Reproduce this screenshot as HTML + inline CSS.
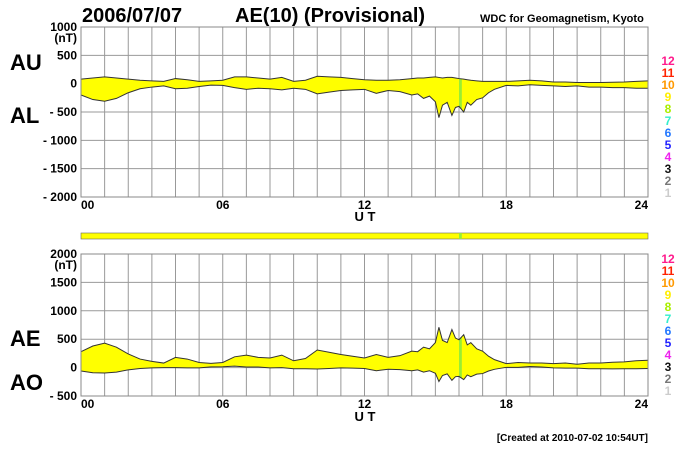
<!DOCTYPE html>
<html><head><meta charset="utf-8"><style>
body{margin:0;background:#fff;}
svg{display:block;font-family:"Liberation Sans",Arial,sans-serif;font-weight:bold;}
</style></head><body>
<svg id="c" width="700" height="450" viewBox="0 0 700 450">
<text x="82" y="22" font-size="20">2006/07/07</text>
<text x="235" y="22" font-size="20">AE(10) (Provisional)</text>
<text x="480" y="22" font-size="11">WDC for Geomagnetism, Kyoto</text>
<text x="10" y="70" font-size="22">AU</text>
<text x="10" y="123" font-size="22">AL</text>
<text x="10" y="346" font-size="22">AE</text>
<text x="10" y="390" font-size="22">AO</text>
<text x="365" y="221" font-size="13" text-anchor="middle">U T</text>
<text x="365" y="421" font-size="13" text-anchor="middle">U T</text>
<text x="648" y="441" font-size="10" text-anchor="end">[Created at 2010-07-02 10:54UT]</text>
<rect x="81" y="233" width="567" height="6" fill="#ffff00" stroke="#666" stroke-width="0.6"/>
</svg>
<script>
const hours=[0,0.5,1,1.5,2,2.5,3,3.5,4,4.5,5,5.5,6,6.5,7,7.5,8,8.5,9,9.5,10,10.5,11,11.5,12,12.5,13,13.5,14,14.25,14.5,14.75,15,15.15,15.3,15.5,15.7,15.85,16,16.2,16.35,16.5,16.75,17,17.25,17.5,18,18.5,19,19.5,20,20.5,21,21.5,22,22.5,23,23.5,24];
const auVals=[80,100,120,100,80,60,50,40,90,70,40,50,60,120,120,100,80,110,40,60,130,120,110,90,70,60,60,70,90,100,100,110,120,110,100,110,110,100,90,80,70,60,50,40,40,40,40,50,60,50,30,30,20,20,20,25,30,40,50];
const alVals=[-200,-280,-310,-260,-160,-90,-60,-40,-90,-80,-50,-25,-30,-70,-100,-80,-90,-110,-80,-100,-180,-150,-120,-110,-100,-170,-120,-140,-200,-180,-260,-220,-320,-600,-380,-330,-560,-420,-400,-500,-330,-380,-280,-250,-160,-100,-30,-40,-20,-30,-40,-50,-40,-60,-60,-70,-70,-80,-80];
const kpColors=['#cccccc','#777777','#111111','#ee22ee','#2222ff','#2277ff','#33eecc','#aaee00','#ffee00','#ff9900','#ff2200','#ff1a8c'];
const topTicks=[1000,500,0,-500,-1000,-1500,-2000];
const botTicks=[2000,1500,1000,500,0,-500];
const xTicks=[0,6,12,18,24];
const xTickLabels=['00','06','12','18','24'];
const NS='http://www.w3.org/2000/svg';
const svg=document.getElementById('c');
const X0=81,X1=648;
const xs=h=>X0+(X1-X0)*h/24;
function mk(t,a,p){const e=document.createElementNS(NS,t);for(const k in a)e.setAttribute(k,a[k]);(p||svg).appendChild(e);return e;}
function panel(top,bot,vmax,vmin,ticks,s1,s2,nm,legTop){
  const ys=v=>top+(vmax-v)*(bot-top)/(vmax-vmin);
  const bg=mk('rect',{x:X0,y:top,width:X1-X0,height:bot-top,fill:'#fff'});
  
  
  for(let h=1;h<24;h++){const l=mk('line',{x1:xs(h),x2:xs(h),y1:top,y2:bot,stroke:'#999','stroke-width':1});
    
    }
  ticks.forEach((t,i)=>{
    const y=ys(t);
    if(i>0&&i<ticks.length-1){const l=mk('line',{x1:X0,x2:X1,y1:y,y2:y,stroke:'#999','stroke-width':1});
      
      }
    const tx=mk('text',{x:77,y:y+4,'font-size':12,'text-anchor':'end'});
    tx.textContent=(t<0?'- '+(-t):String(t));
    
    
  });
  const u=mk('text',{x:77,y:ys(ticks[0])+15,'font-size':12,'text-anchor':'end'});u.textContent='(nT)';
  
  
  let up=hours.map((h,i)=>xs(h)+','+ys(s1[i]));
  let lo=hours.map((h,i)=>xs(h)+','+ys(s2[i])).reverse();
  const pts=up.concat(lo).join(' ');
  const a=mk('polygon',{points:pts,fill:'#ffff00'});
  
  
  const cp=mk('clipPath',{id:nm+'-clip'});
  mk('polygon',{points:pts},cp);
  const g=mk('rect',{x:xs(16),y:top,width:xs(16.12)-xs(16),height:bot-top,fill:'#99ee33','clip-path':'url(#'+nm+'-clip)'});
  
  
  const l1=mk('polyline',{points:up.join(' '),fill:'none',stroke:'#333','stroke-width':1});
  
  
  const l2=mk('polyline',{points:lo.join(' '),fill:'none',stroke:'#333','stroke-width':1});
  
  
  const fr=mk('rect',{x:X0,y:top,width:X1-X0,height:bot-top,fill:'none',stroke:'#888','stroke-width':1});
  
  
  xTicks.forEach((h,i)=>{
    const tx=mk('text',{x:xs(h),y:bot+12,'font-size':12,'text-anchor':i==0?'start':(i==4?'end':'middle')});
    tx.textContent=xTickLabels[i];
    
    
  });
  for(let k=12;k>=1;k--){
    const tx=mk('text',{x:668,y:legTop+(12-k)*12,'font-size':12,'text-anchor':'middle',fill:kpColors[k-1]});
    tx.textContent=String(k);
    
    
  }
}
panel(27,197,1000,-2000,topTicks,auVals,alVals,'au-al',65);
const aeVals=auVals.map((v,i)=>v-alVals[i]);
const aoVals=auVals.map((v,i)=>(v+alVals[i])/2);
panel(254,396,2000,-500,botTicks,aeVals,aoVals,'ae-ao',263);
const gb=mk('rect',{x:xs(16),y:233,width:xs(16.12)-xs(16),height:6,fill:'#99ee33'});


</script>
</body></html>
